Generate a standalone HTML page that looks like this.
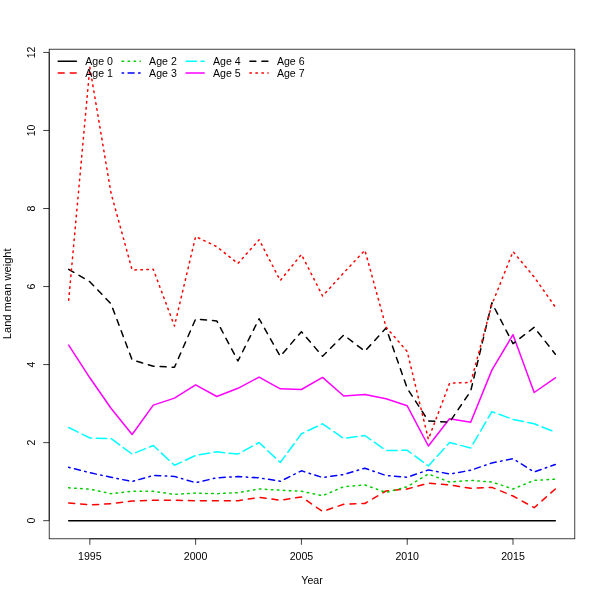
<!DOCTYPE html>
<html><head><meta charset="utf-8"><style>
html,body{margin:0;padding:0;background:#fff;}
svg{display:block;will-change:transform;}
text{font-family:"Liberation Sans",sans-serif;font-size:10.6px;fill:#000;}
</style></head><body>
<svg width="600" height="600" viewBox="0 0 600 600">
<rect x="0" y="0" width="600" height="600" fill="#fff"/>
<g>
<polyline points="68.67,520.67 89.83,520.67 110.99,520.67 132.14,520.67 153.3,520.67 174.46,520.67 195.62,520.67 216.78,520.67 237.94,520.67 259.1,520.67 280.26,520.67 301.42,520.67 322.58,520.67 343.74,520.67 364.9,520.67 386.06,520.67 407.22,520.67 428.38,520.67 449.54,520.67 470.7,520.67 491.86,520.67 513.01,520.67 534.17,520.67 555.33,520.67" fill="none" stroke="#000000" stroke-width="1.5" stroke-linecap="round" stroke-linejoin="round"/>
<polyline points="68.67,503 89.83,504.9 110.99,503.7 132.14,501.1 153.3,500.2 174.46,500.2 195.62,500.7 216.78,500.7 237.94,500.7 259.1,497.4 280.26,500.2 301.42,496.9 322.58,511.5 343.74,504.2 364.9,503.5 386.06,490.9 407.22,489 428.38,483.2 449.54,485 470.7,488.3 491.86,487.4 513.01,496 534.17,507.7 555.33,489" fill="none" stroke="#FF0000" stroke-width="1.5" stroke-linecap="round" stroke-linejoin="round" stroke-dasharray="6.0 6.0"/>
<polyline points="68.67,487.8 89.83,489.2 110.99,493.7 132.14,491.3 153.3,491.3 174.46,494.4 195.62,493.1 216.78,493.7 237.94,492.7 259.1,489 280.26,490.2 301.42,491.3 322.58,495.7 343.74,486.7 364.9,485 386.06,492.5 407.22,486.7 428.38,474 449.54,482 470.7,480.4 491.86,482 513.01,489 534.17,480.4 555.33,479.2" fill="none" stroke="#00CD00" stroke-width="1.5" stroke-linecap="round" stroke-linejoin="round" stroke-dasharray="1.5 4.5"/>
<polyline points="68.67,467.3 89.83,472.7 110.99,477.3 132.14,481.5 153.3,475.5 174.46,476.4 195.62,482.7 216.78,477.8 237.94,476.6 259.1,477.8 280.26,481.3 301.42,470.8 322.58,477.5 343.74,474.5 364.9,468.2 386.06,475.5 407.22,477.3 428.38,469.9 449.54,474 470.7,470.3 491.86,462.9 513.01,458.7 534.17,472 555.33,464.5" fill="none" stroke="#0000FF" stroke-width="1.5" stroke-linecap="round" stroke-linejoin="round" stroke-dasharray="1.5 4.5 6.0 4.5"/>
<polyline points="68.67,427.5 89.83,438 110.99,438.5 132.14,454.1 153.3,445.5 174.46,465.3 195.62,455.5 216.78,451.8 237.94,454.1 259.1,442.5 280.26,462.5 301.42,433.8 322.58,423.8 343.74,438.5 364.9,435.5 386.06,450.5 407.22,450.3 428.38,466 449.54,442.5 470.7,448 491.86,411.7 513.01,419.4 534.17,423.8 555.33,432.2" fill="none" stroke="#00FFFF" stroke-width="1.5" stroke-linecap="round" stroke-linejoin="round" stroke-dasharray="10.5 4.5"/>
<polyline points="68.67,345.2 89.83,377.8 110.99,408.2 132.14,434.5 153.3,405.1 174.46,398.1 195.62,384.8 216.78,396.5 237.94,388.3 259.1,377.1 280.26,388.8 301.42,389.5 322.58,377.4 343.74,396 364.9,394.4 386.06,398.8 407.22,405.8 428.38,446 449.54,418.7 470.7,422.2 491.86,370.1 513.01,334.7 534.17,392.5 555.33,377.8" fill="none" stroke="#FF00FF" stroke-width="1.5" stroke-linecap="round" stroke-linejoin="round"/>
<polyline points="68.67,269.3 89.83,281.7 110.99,303.8 132.14,359.9 153.3,366.2 174.46,367.3 195.62,319 216.78,320.9 237.94,361 259.1,318.75 280.26,356.25 301.42,331.75 322.58,356.25 343.74,335 364.9,351.25 386.06,328 407.22,388.3 428.38,421 449.54,422.2 470.7,391.1 491.86,302.8 513.01,343.7 534.17,327.3 555.33,354.2" fill="none" stroke="#000000" stroke-width="1.5" stroke-linecap="round" stroke-linejoin="round" stroke-dasharray="6.0 6.0"/>
<polyline points="68.67,300.3 89.83,67.3 110.99,193 132.14,270 153.3,269.3 174.46,326 195.62,236.5 216.78,246.7 237.94,263.5 259.1,239.7 280.26,280.5 301.42,254.4 322.58,296 343.74,272.8 364.9,250.2 386.06,327.2 407.22,351.5 428.38,439.2 449.54,383.2 470.7,382.5 491.86,304.5 513.01,251.6 534.17,277 555.33,307" fill="none" stroke="#FF0000" stroke-width="1.5" stroke-linecap="round" stroke-linejoin="round" stroke-dasharray="1.5 4.5"/>
</g>
<rect x="49.2" y="49.2" width="525.6" height="489.6" fill="none" stroke="#000" stroke-width="0.75"/>
<line x1="89.83" y1="538.8" x2="513.01" y2="538.8" stroke="#000" stroke-width="0.75"/>
<line x1="49.2" y1="520.67" x2="49.2" y2="52.43" stroke="#000" stroke-width="0.75"/>
<line x1="89.83" y1="538.8" x2="89.83" y2="544.8" stroke="#000" stroke-width="0.75"/>
<text x="89.83" y="560" text-anchor="middle">1995</text>
<line x1="195.62" y1="538.8" x2="195.62" y2="544.8" stroke="#000" stroke-width="0.75"/>
<text x="195.62" y="560" text-anchor="middle">2000</text>
<line x1="301.42" y1="538.8" x2="301.42" y2="544.8" stroke="#000" stroke-width="0.75"/>
<text x="301.42" y="560" text-anchor="middle">2005</text>
<line x1="407.22" y1="538.8" x2="407.22" y2="544.8" stroke="#000" stroke-width="0.75"/>
<text x="407.22" y="560" text-anchor="middle">2010</text>
<line x1="513.01" y1="538.8" x2="513.01" y2="544.8" stroke="#000" stroke-width="0.75"/>
<text x="513.01" y="560" text-anchor="middle">2015</text>
<line x1="43.2" y1="520.67" x2="49.2" y2="520.67" stroke="#000" stroke-width="0.75"/>
<text transform="translate(34.8,520.67) rotate(-90)" text-anchor="middle">0</text>
<line x1="43.2" y1="442.63" x2="49.2" y2="442.63" stroke="#000" stroke-width="0.75"/>
<text transform="translate(34.8,442.63) rotate(-90)" text-anchor="middle">2</text>
<line x1="43.2" y1="364.59" x2="49.2" y2="364.59" stroke="#000" stroke-width="0.75"/>
<text transform="translate(34.8,364.59) rotate(-90)" text-anchor="middle">4</text>
<line x1="43.2" y1="286.55" x2="49.2" y2="286.55" stroke="#000" stroke-width="0.75"/>
<text transform="translate(34.8,286.55) rotate(-90)" text-anchor="middle">6</text>
<line x1="43.2" y1="208.51" x2="49.2" y2="208.51" stroke="#000" stroke-width="0.75"/>
<text transform="translate(34.8,208.51) rotate(-90)" text-anchor="middle">8</text>
<line x1="43.2" y1="130.47" x2="49.2" y2="130.47" stroke="#000" stroke-width="0.75"/>
<text transform="translate(34.8,130.47) rotate(-90)" text-anchor="middle">10</text>
<line x1="43.2" y1="52.43" x2="49.2" y2="52.43" stroke="#000" stroke-width="0.75"/>
<text transform="translate(34.8,52.43) rotate(-90)" text-anchor="middle">12</text>

<text x="312" y="583.5" text-anchor="middle">Year</text>
<text transform="translate(10.8,293.8) rotate(-90)" text-anchor="middle" textLength="90.8" lengthAdjust="spacingAndGlyphs">Land mean weight</text>
<line x1="58.20" y1="61.2" x2="76.40" y2="61.2" stroke="#000000" stroke-width="1.5" stroke-linecap="round"/>
<text x="85.20" y="65.00">Age 0</text>
<line x1="58.20" y1="73.1" x2="76.40" y2="73.1" stroke="#FF0000" stroke-width="1.5" stroke-linecap="round" stroke-dasharray="6.0 6.0"/>
<text x="85.20" y="76.90">Age 1</text>
<line x1="122.10" y1="61.2" x2="140.30" y2="61.2" stroke="#00CD00" stroke-width="1.5" stroke-linecap="round" stroke-dasharray="1.5 4.5"/>
<text x="149.10" y="65.00">Age 2</text>
<line x1="122.10" y1="73.1" x2="140.30" y2="73.1" stroke="#0000FF" stroke-width="1.5" stroke-linecap="round" stroke-dasharray="1.5 4.5 6.0 4.5"/>
<text x="149.10" y="76.90">Age 3</text>
<line x1="186.00" y1="61.2" x2="204.20" y2="61.2" stroke="#00FFFF" stroke-width="1.5" stroke-linecap="round" stroke-dasharray="10.5 4.5"/>
<text x="213.00" y="65.00">Age 4</text>
<line x1="186.00" y1="73.1" x2="204.20" y2="73.1" stroke="#FF00FF" stroke-width="1.5" stroke-linecap="round"/>
<text x="213.00" y="76.90">Age 5</text>
<line x1="249.90" y1="61.2" x2="268.10" y2="61.2" stroke="#000000" stroke-width="1.5" stroke-linecap="round" stroke-dasharray="6.0 6.0"/>
<text x="276.90" y="65.00">Age 6</text>
<line x1="249.90" y1="73.1" x2="268.10" y2="73.1" stroke="#FF0000" stroke-width="1.5" stroke-linecap="round" stroke-dasharray="1.5 4.5"/>
<text x="276.90" y="76.90">Age 7</text>

</svg>
</body></html>
